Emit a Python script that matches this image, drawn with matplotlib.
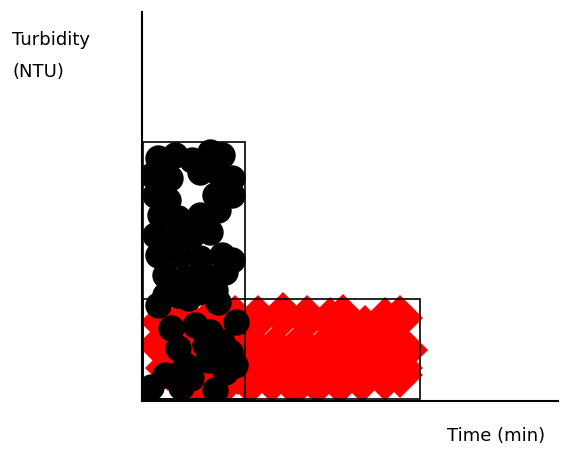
import matplotlib
matplotlib.use("Agg")
import matplotlib.pyplot as plt
from matplotlib.patches import Rectangle

# Turbidity readings over time (arbitrary units, axis runs 0-416 by 0-389)
# Red diamonds: long, low-turbidity stretch
red_time = [21, 43, 68, 93, 116, 141, 165, 188, 201, 223, 243, 258,
            18, 40, 63, 86, 110, 133, 158, 180, 203, 226, 248, 263,
            26, 48, 73, 96, 120, 143, 168, 190, 213, 236, 258,
            58, 83, 108, 130, 153, 176, 198, 220, 243, 258]
red_turb = [79, 83, 81, 83, 83, 86, 83, 81, 84, 73, 81, 83,
            56, 53, 56, 51, 56, 53, 56, 51, 56, 53, 56, 51,
            33, 29, 33, 29, 33, 29, 26, 33, 29, 31, 33,
            16, 19, 19, 21, 16, 19, 19, 21, 23, 26]

# Black dots: short, high-turbidity burst
black_time = [16, 33, 50, 68, 80, 10, 28, 58, 78, 90, 13, 26, 73, 90,
              18, 36, 58, 76, 13, 30, 50, 68, 16, 38, 58, 80, 90,
              23, 43, 63, 83, 23, 36, 56, 73,
              16, 46, 76, 29, 53, 68, 94, 36, 63, 80, 43, 66, 88,
              83, 23, 49, 9, 73, 39, 93]
black_turb = [243, 246, 241, 249, 246, 226, 223, 229, 226, 223, 206, 201, 206, 206,
              186, 183, 186, 191, 166, 163, 166, 169, 146, 146, 143, 146, 141,
              126, 123, 126, 129, 106, 106, 109, 111,
              96, 103, 99, 73, 76, 69, 79, 53, 56, 59, 36, 41, 49,
              29, 26, 23, 14, 11, 14, 36]

# Range boxes: (time start, turbidity start, time span, turbidity span)
boxes = [(1, 2, 102, 257), (1, 2, 277, 100)]

fig = plt.figure(figsize=(5.62, 4.5), dpi=100)
W, H = 562, 450
ax = fig.add_axes([142 / W, 1 - 401 / H, 416 / W, 389 / H])
ax.set_xlim(0, 416)
ax.set_ylim(0, 389)

ax.plot(red_time, red_turb, linestyle="none", marker="D", markersize=23,
        color="#ff0000", markeredgewidth=0, zorder=2)
ax.plot(black_time, black_turb, linestyle="none", marker="o", markersize=19,
        color="black", markeredgewidth=0, zorder=3)

for x0, y0, w, h in boxes:
    ax.add_patch(Rectangle((x0, y0), w, h, fill=False, edgecolor="black",
                           linewidth=1.2, zorder=4, clip_on=False))

for side in ("top", "right"):
    ax.spines[side].set_visible(False)
for side in ("left", "bottom"):
    ax.spines[side].set_linewidth(1.5)
    ax.spines[side].set_color("black")
ax.set_xticks([])
ax.set_yticks([])

fs = 13
fig.text(12 / W, 1 - 31 / H, "Turbidity", fontsize=fs, va="top", ha="left",
         family="DejaVu Sans")
fig.text(12 / W, 1 - 63 / H, "(NTU)", fontsize=fs, va="top", ha="left",
         family="DejaVu Sans")
fig.text(447 / W, 1 - 427 / H, "Time (min)", fontsize=fs, va="top", ha="left",
         family="DejaVu Sans")

fig.savefig("out.png", dpi=100)
